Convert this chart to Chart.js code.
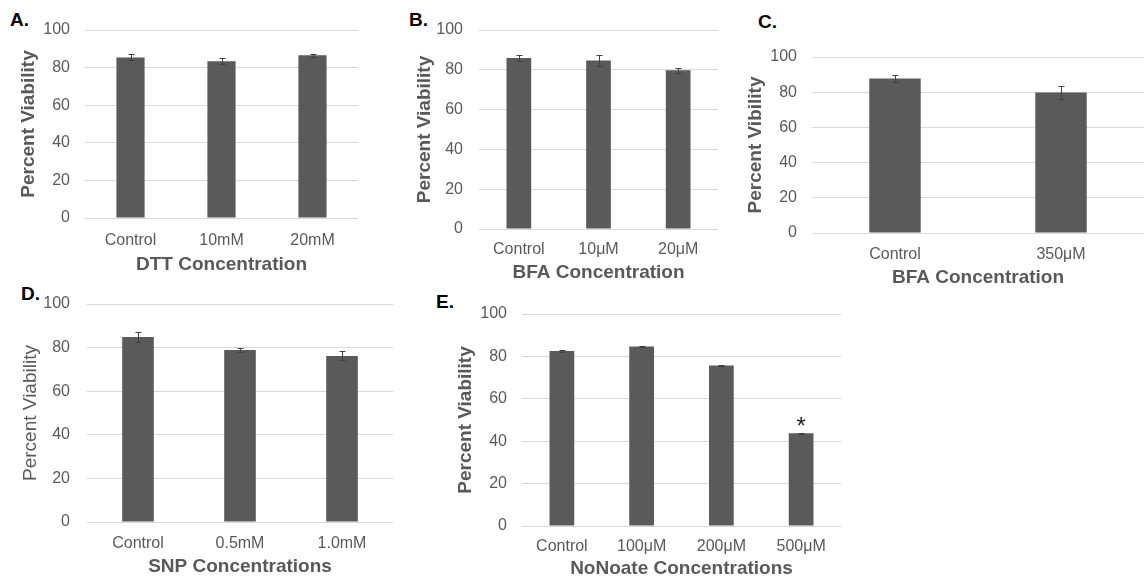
<!DOCTYPE html>
<html>
<head>
<meta charset="utf-8">
<script src="https://cdn.jsdelivr.net/npm/chart.js@4.4.1/dist/chart.umd.min.js"></script>
<style>
  body { margin: 0; background: #fff; width: 1144px; height: 580px; position: relative; overflow: hidden; font-family: 'Liberation Sans', Arial, sans-serif; }
  .panel { position: absolute; }
  .panel-letter { position: absolute; font-weight: bold; font-size: 19px; line-height: 19px; color: #000; }
</style>
</head>
<body>
<div class="panel-letter" style="left:10px;top:10px">A.</div>
<div class="panel-letter" style="left:409px;top:10px">B.</div>
<div class="panel-letter" style="left:758px;top:12px">C.</div>
<div class="panel-letter" style="left:21px;top:284px">D.</div>
<div class="panel-letter" style="left:436px;top:292px">E.</div>

<div class="panel" style="left:0px;top:0px;width:370px;height:280px"><canvas id="chart-a"></canvas></div>
<div class="panel" style="left:400px;top:0px;width:330px;height:288px"><canvas id="chart-b"></canvas></div>
<div class="panel" style="left:730px;top:0px;width:414px;height:293px"><canvas id="chart-c"></canvas></div>
<div class="panel" style="left:0px;top:280px;width:405px;height:300px"><canvas id="chart-d"></canvas></div>
<div class="panel" style="left:430px;top:280px;width:420px;height:300px"><canvas id="chart-e"></canvas></div>

<script>
// y axis (same for every panel)
const yMin = 0;
const yMax = 100;
const yStep = 20;

// A. DTT
const dttLabels = ['Control', '10mM', '20mM'];
const dttValues = [85.4, 83.4, 86.6];
const dttErrors = [1.6, 1.6, 0.7];

// B. BFA
const bfaLabels = ['Control', '10μM', '20μM'];
const bfaValues = [85.9, 84.7, 79.8];
const bfaErrors = [1.3, 2.6, 1.2];

// C. BFA high dose
const bfaHighLabels = ['Control', '350μM'];
const bfaHighValues = [87.8, 79.8];
const bfaHighErrors = [2.1, 3.8];

// D. SNP
const snpLabels = ['Control', '0.5mM', '1.0mM'];
const snpValues = [84.9, 78.9, 76.2];
const snpErrors = [2.3, 1.1, 2.1];

// E. NoNoate
const nonoateLabels = ['Control', '100μM', '200μM', '500μM'];
const nonoateValues = [82.6, 84.7, 75.7, 43.7];
const nonoateErrors = [0.4, 0.3, 0.4, 0.3];
const nonoateSignificant = [false, false, false, true];

const textColor = '#595959';
const barColor = '#5a5a5a';
const gridColor = '#d9d9d9';

Chart.defaults.font.family = "'Liberation Sans', Arial, sans-serif";
Chart.defaults.color = textColor;

const errorBarPlugin = {
    id: 'errorBars',
    afterDatasetsDraw(chart, args, opts) {
        const ctx = chart.ctx;
        const y = chart.scales.y;
        const values = chart.data.datasets[0].data;
        const errors = opts.errors || [];
        const marks = opts.marks || [];
        const meta = chart.getDatasetMeta(0);

        ctx.save();
        ctx.strokeStyle = '#404040';
        ctx.lineWidth = 1;
        meta.data.forEach((bar, i) => {
            const v = values[i];
            const e = errors[i] || 0;
            const top = Math.round(y.getPixelForValue(v + e)) + 0.5;
            const bottom = Math.round(y.getPixelForValue(v - e)) + 0.5;
            const cx = Math.round(bar.x) + 0.5;
            ctx.beginPath();
            ctx.moveTo(cx, top);
            ctx.lineTo(cx, bottom);
            ctx.moveTo(cx - 3, top);
            ctx.lineTo(cx + 3, top);
            ctx.moveTo(cx - 3, bottom);
            ctx.lineTo(cx + 3, bottom);
            ctx.stroke();

            // significance star above the bar
            if (marks[i]) {
                ctx.fillStyle = '#222';
                ctx.font = "24px 'Liberation Sans', Arial, sans-serif";
                ctx.textAlign = 'center';
                ctx.textBaseline = 'alphabetic';
                ctx.fillText('*', bar.x, y.getPixelForValue(v + e) + 1);
            }
        });
        ctx.restore();
    }
};

function renderPanel(id, cfg) {
    const ctx = document.getElementById(id);
    if (!ctx) return;

    new Chart(ctx, {
        type: 'bar',
        data: {
            labels: cfg.labels,
            datasets: [{
                data: cfg.values,
                backgroundColor: barColor,
                borderWidth: 0,
                barPercentage: 1,
                categoryPercentage: 0.31
            }]
        },
        options: {
            responsive: true,
            maintainAspectRatio: false,
            animation: false,
            layout: { padding: { top: cfg.padTop, right: cfg.padRight, left: 0, bottom: 0 } },
            plugins: {
                legend: { display: false },
                tooltip: { enabled: false },
                errorBars: { errors: cfg.errors, marks: cfg.marks }
            },
            scales: {
                x: {
                    grid: { display: false },
                    border: { display: false },
                    ticks: { color: textColor, font: { size: 16 }, padding: cfg.xTickPad, maxRotation: 0 },
                    title: {
                        display: true,
                        text: cfg.xTitle,
                        color: textColor,
                        font: { size: 19, weight: 'bold' },
                        padding: { top: 0, bottom: cfg.xTitleBottom ?? 4 }
                    },
                    afterFit: scale => {
                        scale.height = cfg.xHeight;
                        scale.paddingLeft = 0;
                        scale.paddingRight = 0;
                    }
                },
                y: {
                    min: yMin,
                    max: yMax,
                    grid: { color: gridColor, lineWidth: 1, drawTicks: false },
                    border: { display: false },
                    ticks: { stepSize: yStep, color: textColor, font: { size: 16 }, padding: cfg.yTickPad },
                    title: {
                        display: true,
                        text: cfg.yTitle,
                        color: textColor,
                        font: { size: 19, weight: cfg.yTitleBold ? 'bold' : 'normal' },
                        padding: { top: cfg.yTitlePad, bottom: 0 }
                    },
                    afterFit: scale => {
                        scale.width = cfg.yWidth;
                        scale.paddingTop = 0;
                        scale.paddingBottom = 0;
                    }
                }
            }
        },
        plugins: [errorBarPlugin]
    });
}

renderPanel('chart-a', {
    labels: dttLabels, values: dttValues, errors: dttErrors,
    xTitle: 'DTT Concentration', yTitle: 'Percent Viability', yTitleBold: true,
    padTop: 30, padRight: 12, xHeight: 62, yWidth: 85, yTickPad: 15, yTitlePad: 17, xTickPad: 5
});

renderPanel('chart-b', {
    labels: bfaLabels, values: bfaValues, errors: bfaErrors,
    xTitle: 'BFA Concentration', yTitle: 'Percent Viability', yTitleBold: true,
    padTop: 30, padRight: 12, xHeight: 59, yWidth: 79, yTickPad: 16, yTitlePad: 13, xTickPad: 3
});

renderPanel('chart-c', {
    labels: bfaHighLabels, values: bfaHighValues, errors: bfaHighErrors,
    xTitle: 'BFA Concentration', yTitle: 'Percent Vibility', yTitleBold: true,
    padTop: 57, padRight: 0, xHeight: 60, yWidth: 82, yTickPad: 15, yTitlePad: 14, xTickPad: 4
});

renderPanel('chart-d', {
    labels: snpLabels, values: snpValues, errors: snpErrors,
    xTitle: 'SNP Concentrations', yTitle: 'Percent Viability', yTitleBold: false,
    padTop: 24, padRight: 12, xHeight: 58, yWidth: 87, yTickPad: 17, yTitlePad: 19, xTickPad: 4,
    xTitleBottom: 2
});

renderPanel('chart-e', {
    labels: nonoateLabels, values: nonoateValues, errors: nonoateErrors, marks: nonoateSignificant,
    xTitle: 'NoNoate Concentrations', yTitle: 'Percent Viability', yTitleBold: true,
    padTop: 34, padRight: 9, xHeight: 54, yWidth: 92, yTickPad: 15, yTitlePad: 24, xTickPad: 3,
    xTitleBottom: 0
});
</script>
</body>
</html>
